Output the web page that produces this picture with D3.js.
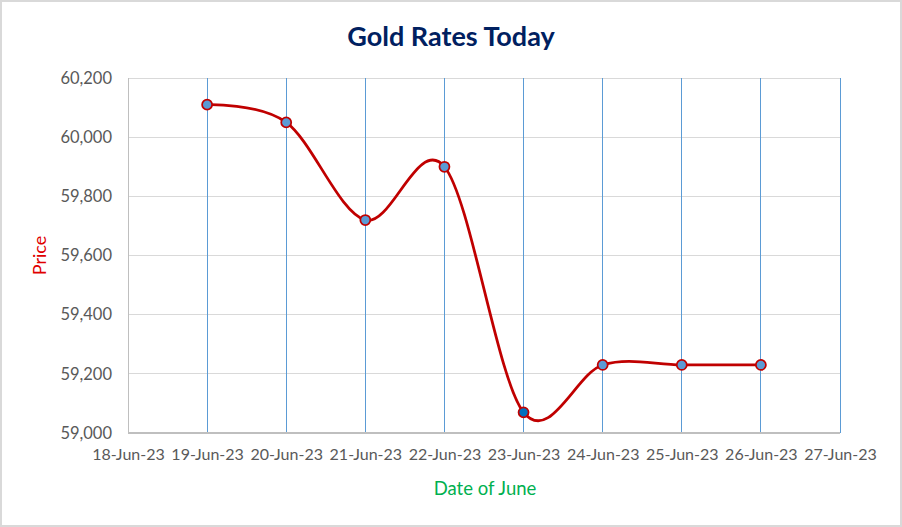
<!DOCTYPE html>
<html><head><meta charset="utf-8">
<script src="https://cdn.jsdelivr.net/npm/d3@7"></script>
<style>body{margin:0;background:#fff;} svg{display:block;}</style>
</head><body>
<script>
const dates = ["18-Jun-23","19-Jun-23","20-Jun-23","21-Jun-23","22-Jun-23","23-Jun-23","24-Jun-23","25-Jun-23","26-Jun-23","27-Jun-23"];
const pointDates = ["19-Jun-23","20-Jun-23","21-Jun-23","22-Jun-23","23-Jun-23","24-Jun-23","25-Jun-23","26-Jun-23"];
const prices = [60110, 60050, 59720, 59900, 59070, 59230, 59230, 59230];
const yTicks = [59000, 59200, 59400, 59600, 59800, 60000, 60200];

const W = 902, H = 527;
const m = {left:128, right:62, top:78, bottom:94};
const font = "Lato, 'Open Sans', sans-serif";

const svg = d3.select("body").append("svg").attr("width", W).attr("height", H);
svg.append("rect").attr("x",1).attr("y",1).attr("width",W-2).attr("height",H-2)
  .attr("fill","#fff").attr("stroke","#d9d9d9").attr("stroke-width",2);

const x = d3.scalePoint().domain(dates).range([m.left, W - m.right]);
const y = d3.scaleLinear().domain([59000, 60200]).range([H - m.bottom, m.top]);

svg.append("g").selectAll("line").data(yTicks).join("line")
  .attr("x1", m.left).attr("x2", W - m.right)
  .attr("y1", d => y(d)).attr("y2", d => y(d))
  .attr("stroke", "#d9d9d9").attr("stroke-width", 1).attr("shape-rendering","crispEdges");

svg.append("g").selectAll("line").data(dates.slice(1)).join("line")
  .attr("x1", d => x(d)).attr("x2", d => x(d))
  .attr("y1", m.top).attr("y2", H - m.bottom)
  .attr("stroke", "#5b9bd5").attr("stroke-width", 1).attr("shape-rendering","crispEdges");

svg.append("line").attr("x1", m.left).attr("x2", m.left).attr("y1", m.top).attr("y2", H - m.bottom)
  .attr("stroke","#bfbfbf").attr("shape-rendering","crispEdges");
svg.append("line").attr("x1", m.left).attr("x2", W - m.right).attr("y1", H - m.bottom).attr("y2", H - m.bottom)
  .attr("stroke","#bfbfbf").attr("stroke-width",1.5).attr("shape-rendering","crispEdges");

const yAxis = d3.axisLeft(y).tickValues(yTicks).tickFormat(d3.format(",")).tickSize(0).tickPadding(16);
const gy = svg.append("g").attr("transform", `translate(${m.left},0)`).call(yAxis);
gy.select(".domain").remove();
gy.selectAll("text").attr("fill","#595959").style("font-family",font).style("font-size","16.5px");

const xAxis = d3.axisBottom(x).tickSize(0).tickPadding(16);
const gx = svg.append("g").attr("transform", `translate(0,${H - m.bottom})`).call(xAxis);
gx.select(".domain").remove();
gx.selectAll("text").attr("fill","#595959").style("font-family",font).style("font-size","16px");

const pts = pointDates.map((d,i) => ({d, v: prices[i]}));
const line = d3.line().x(p => x(p.d)).y(p => y(p.v)).curve(d3.curveCardinal.tension(0));
svg.append("path").datum(pts).attr("d", line).attr("fill","none")
  .attr("stroke","#c00000").attr("stroke-width",2.75);

svg.append("g").selectAll("circle").data(pts).join("circle")
  .attr("cx", p => x(p.d)).attr("cy", p => y(p.v)).attr("r", 5)
  .attr("fill", p => p.d === "23-Jun-23" ? "#0070c0" : "#5b9bd5")
  .attr("stroke","#c00000").attr("stroke-width",1.75);

svg.append("text").attr("x", 451).attr("y", 46).attr("text-anchor","middle")
  .attr("fill","#002060").style("font-family",font).style("font-weight","bold").style("font-size","27px")
  .text("Gold Rates Today");

svg.append("text").attr("transform", `translate(46,${(m.top + H - m.bottom)/2}) rotate(-90)`)
  .attr("text-anchor","middle").attr("fill","#e00000").style("font-family",font).style("font-size","18px")
  .text("Price");
svg.append("text").attr("x", 485).attr("y", 495).attr("text-anchor","middle")
  .attr("fill","#00b050").style("font-family",font).style("font-size","18.5px")
  .text("Date of June");
</script>
</body></html>
